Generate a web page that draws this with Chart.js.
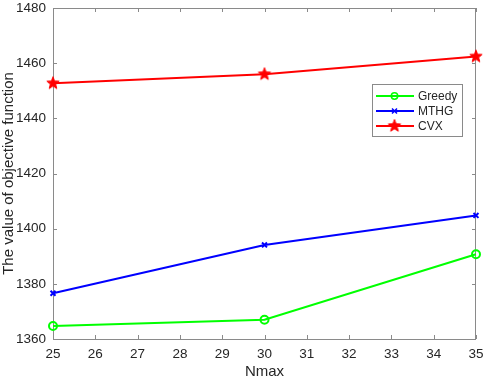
<!DOCTYPE html>
<html>
<head>
<meta charset="utf-8">
<script src="https://cdn.jsdelivr.net/npm/chart.js@4/dist/chart.umd.min.js"></script>
<style>
html,body{margin:0;padding:0;background:#fff;}
#wrap{width:484px;height:377px;position:relative;}
</style>
</head>
<body>
<div id="wrap"><canvas id="c" width="484" height="377"></canvas></div>
<script>
const nmax = [25, 30, 35];
const greedy = [1364.7, 1367.0, 1390.7];
const mthg = [1376.6, 1394.1, 1404.8];
const cvx = [1452.7, 1456.0, 1462.4];
const seriesNames = ['Greedy', 'MTHG', 'CVX'];
const xRange = [25, 35];
const yRange = [1360, 1480];

const FONT = '"Liberation Sans", Arial, Helvetica, sans-serif';
const TEXT = '#262626';
const AXIS = '#8a8a8a';

function makeStar(size, r, color) {
  const c = document.createElement('canvas');
  c.width = size; c.height = size;
  const g = c.getContext('2d');
  const cx = size / 2, cy = size / 2, ri = r * 0.42;
  g.beginPath();
  for (let i = 0; i < 10; i++) {
    const rad = i % 2 === 0 ? r : ri;
    const a = -Math.PI / 2 + i * Math.PI / 5;
    const px = cx + rad * Math.cos(a), py = cy + rad * Math.sin(a);
    if (i === 0) g.moveTo(px, py); else g.lineTo(px, py);
  }
  g.closePath();
  g.fillStyle = color; g.fill();
  g.strokeStyle = color; g.lineWidth = 1; g.stroke();
  return c;
}
const star = makeStar(16, 6.5, '#ff0000');

function pts(xs, ys) { return xs.map((x, i) => ({x: x, y: ys[i]})); }

const axesPlugin = {
  id: 'matlabAxes',
  beforeDatasetsDraw(chart) {
    const {ctx, chartArea: a, scales: {x, y}} = chart;
    ctx.save();
    ctx.strokeStyle = AXIS; ctx.lineWidth = 1;
    ctx.beginPath();
    ctx.rect(a.left + 0.5, a.top + 0.5, a.right - a.left - 1, a.bottom - a.top);
    x.ticks.forEach(t => {
      const px = Math.round(x.getPixelForValue(t.value)) + 0.5;
      ctx.moveTo(px, a.bottom); ctx.lineTo(px, a.bottom - 4);
      ctx.moveTo(px, a.top); ctx.lineTo(px, a.top + 4);
    });
    y.ticks.forEach(t => {
      const py = Math.round(y.getPixelForValue(t.value)) + 0.5;
      ctx.moveTo(a.left, py); ctx.lineTo(a.left + 4, py);
      ctx.moveTo(a.right, py); ctx.lineTo(a.right - 4, py);
    });
    ctx.stroke();
    ctx.restore();
  },
  afterDraw(chart) {
    const ctx = chart.ctx;
    const bx = 372, by = 84, bw = 90, bh = 52;
    ctx.save();
    ctx.fillStyle = '#fff';
    ctx.fillRect(bx, by, bw, bh);
    ctx.strokeStyle = AXIS; ctx.lineWidth = 1;
    ctx.strokeRect(bx + 0.5, by + 0.5, bw, bh);
    const rows = [96, 111, 126];
    chart.data.datasets.forEach((ds, i) => {
      const yy = rows[i];
      ctx.strokeStyle = ds.borderColor; ctx.lineWidth = 2;
      ctx.beginPath(); ctx.moveTo(376, yy); ctx.lineTo(414, yy); ctx.stroke();
      const mx = 394.5;
      if (ds.pointStyle === 'circle') {
        ctx.lineWidth = 1.5;
        ctx.beginPath(); ctx.arc(mx, yy, 3.2, 0, Math.PI * 2); ctx.stroke();
      } else if (ds.pointStyle === 'crossRot') {
        ctx.lineWidth = 1.5;
        ctx.beginPath();
        ctx.moveTo(mx - 2.5, yy - 2.5); ctx.lineTo(mx + 2.5, yy + 2.5);
        ctx.moveTo(mx - 2.5, yy + 2.5); ctx.lineTo(mx + 2.5, yy - 2.5);
        ctx.stroke();
      } else {
        ctx.drawImage(ds.pointStyle, mx - 8, yy - 8);
      }
      ctx.fillStyle = TEXT;
      ctx.font = '12px ' + FONT;
      ctx.textBaseline = 'middle';
      ctx.textAlign = 'left';
      ctx.fillText(ds.label, 418, yy + 0.5);
    });
    ctx.restore();
  }
};

new Chart(document.getElementById('c'), {
  type: 'line',
  data: {
    datasets: [
      {label: seriesNames[0], data: pts(nmax, greedy), borderColor: '#00ff00', backgroundColor: 'rgba(0,0,0,0)',
       borderWidth: 2, pointStyle: 'circle', pointRadius: 4, pointBorderWidth: 2,
       pointBackgroundColor: 'rgba(0,0,0,0)', pointBorderColor: '#00ff00', tension: 0},
      {label: seriesNames[1], data: pts(nmax, mthg), borderColor: '#0000ff', backgroundColor: 'rgba(0,0,0,0)',
       borderWidth: 2, pointStyle: 'crossRot', pointRadius: 3.5, pointBorderWidth: 2,
       pointBorderColor: '#0000ff', tension: 0},
      {label: seriesNames[2], data: pts(nmax, cvx), borderColor: '#ff0000', backgroundColor: 'rgba(0,0,0,0)',
       borderWidth: 2, pointStyle: star, pointRadius: 6, tension: 0}
    ]
  },
  options: {
    responsive: false,
    animation: false,
    clip: false,
    layout: {padding: {top: 4, right: 7, left: 0, bottom: 0}},
    plugins: {legend: {display: false}, tooltip: {enabled: false}},
    scales: {
      x: {
        type: 'linear', min: xRange[0], max: xRange[1],
        grid: {display: false, drawTicks: false}, border: {display: false},
        ticks: {stepSize: 1, padding: 7, color: TEXT, font: {family: FONT, size: 13.5}, maxRotation: 0, autoSkip: false,
                callback: v => String(v)},
        title: {display: true, text: 'Nmax', color: TEXT, font: {family: FONT, size: 15, lineHeight: 1}, padding: {top: 0, bottom: -2}},
        afterFit(s) { s.height = 38; s.paddingLeft = 0; s.paddingRight = 0; }
      },
      y: {
        type: 'linear', min: yRange[0], max: yRange[1],
        grid: {display: false, drawTicks: false}, border: {display: false},
        ticks: {stepSize: 20, padding: 7, color: TEXT, font: {family: FONT, size: 13.5}, callback: v => String(v)},
        title: {display: true, text: 'The value of objective function', color: TEXT, font: {family: FONT, size: 15, lineHeight: 1.1}, padding: {top: 1, bottom: 0}},
        afterFit(s) { s.width = 53; s.paddingTop = 0; s.paddingBottom = 0; }
      }
    }
  },
  plugins: [axesPlugin]
});
</script>
</body>
</html>
